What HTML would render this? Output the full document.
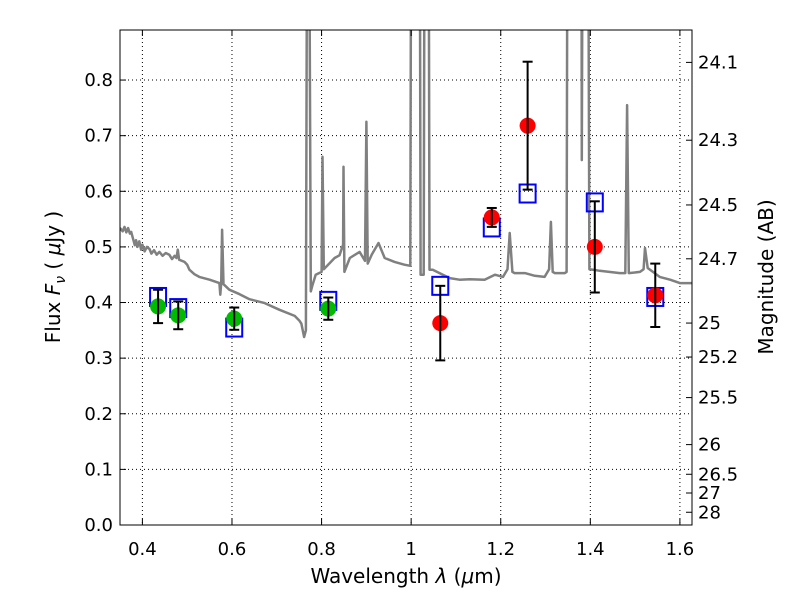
<!DOCTYPE html>
<html><head><meta charset="utf-8"><style>
html,body{margin:0;padding:0;background:#fff}
svg{display:block;font-family:"DejaVu Sans","Liberation Sans",sans-serif}
</style></head><body>
<svg id="chart" width="800" height="600">
<defs><clipPath id="clip"><rect x="120" y="30" width="572" height="495"/></clipPath></defs>
<rect x="0" y="0" width="800" height="600" fill="#fff"/>
<g id="grid"></g>
<g id="spec" clip-path="url(#clip)"></g>
<g id="marks"></g>
<rect x="120" y="30" width="572" height="495" fill="none" stroke="#000" stroke-width="1"/>
<g id="axes"></g>
<text x="406" y="583" font-size="20" text-anchor="middle">Wavelength  <tspan font-style="italic">λ</tspan> (<tspan font-style="italic">μ</tspan>m)</text>
<text transform="translate(60,277) rotate(-90)" font-size="20" text-anchor="middle">Flux  <tspan font-style="italic">F</tspan><tspan font-style="italic" font-size="14" dy="5">ν</tspan><tspan dy="-5">  ( </tspan><tspan font-style="italic">μ</tspan>Jy )</text>
<text transform="translate(773,277) rotate(-90)" font-size="20" text-anchor="middle">Magnitude (AB)</text>
</svg>
<script>
const xTicks=[0.4,0.6,0.8,1.0,1.2,1.4,1.6];
const xTickLabels=["0.4","0.6","0.8","1","1.2","1.4","1.6"];
const yTicks=[0,0.1,0.2,0.3,0.4,0.5,0.6,0.7,0.8];
const yTickLabels=["0.0","0.1","0.2","0.3","0.4","0.5","0.6","0.7","0.8"];
const magTicks=[24.1,24.3,24.5,24.7,25,25.2,25.5,26,26.5,27,28];
const magTickLabels=["24.1","24.3","24.5","24.7","25","25.2","25.5","26","26.5","27","28"];
const greenX=[0.435,0.48,0.605,0.815];
const greenY=[0.393,0.377,0.371,0.389];
const greenErr=[0.03,0.025,0.02,0.02];
const redX=[1.065,1.18,1.26,1.41,1.545];
const redY=[0.363,0.553,0.718,0.5,0.413];
const redErr=[0.067,0.017,0.115,0.082,0.057];
const modelX=[0.435,0.48,0.605,0.815,1.065,1.18,1.26,1.41,1.545];
const modelY=[0.41,0.39,0.355,0.403,0.43,0.535,0.596,0.58,0.41];
const specX=[0.35,0.356,0.36,0.364,0.368,0.372,0.375,0.379,0.383,0.386,0.389,0.393,0.397,0.4,0.405,0.41,0.416,0.42,0.426,0.432,0.438,0.445,0.452,0.46,0.466,0.472,0.476,0.479,0.482,0.494,0.5,0.505,0.516,0.527,0.55,0.572,0.574,0.576,0.578,0.581,0.594,0.617,0.639,0.673,0.706,0.74,0.751,0.755,0.761,0.765,0.768,0.772,0.776,0.78,0.787,0.8,0.802,0.805,0.829,0.84,0.848,0.849,0.851,0.863,0.885,0.897,0.9,0.903,0.912,0.927,0.941,0.963,0.985,0.998,1.0,1.019,1.021,1.028,1.03,1.039,1.041,1.048,1.086,1.108,1.131,1.164,1.187,1.205,1.215,1.22,1.226,1.231,1.254,1.276,1.298,1.308,1.312,1.316,1.321,1.343,1.347,1.349,1.365,1.38,1.381,1.383,1.395,1.398,1.406,1.421,1.466,1.478,1.482,1.486,1.511,1.519,1.522,1.528,1.555,1.578,1.6,1.627];
const specY=[0.534,0.528,0.536,0.526,0.534,0.524,0.527,0.515,0.503,0.512,0.5,0.51,0.495,0.504,0.492,0.5,0.496,0.488,0.494,0.486,0.491,0.484,0.489,0.486,0.478,0.484,0.48,0.495,0.477,0.473,0.468,0.459,0.451,0.446,0.441,0.435,0.414,0.435,0.531,0.433,0.423,0.415,0.406,0.399,0.387,0.376,0.367,0.362,0.338,0.35,1.2,1.2,0.42,0.432,0.45,0.455,0.662,0.46,0.48,0.485,0.504,0.644,0.455,0.48,0.491,0.475,0.725,0.47,0.486,0.507,0.48,0.473,0.468,0.466,1.2,1.2,0.45,0.45,1.2,1.2,0.459,0.459,0.444,0.441,0.442,0.441,0.45,0.446,0.46,0.525,0.455,0.453,0.453,0.448,0.446,0.46,0.545,0.455,0.453,0.453,0.455,1.2,1.2,1.2,0.656,1.2,1.2,0.46,0.459,0.457,0.453,0.453,0.755,0.453,0.455,0.46,0.498,0.462,0.446,0.441,0.435,0.435];

const X0=120,X1=692,Y0=525,Y1=30,XMIN=0.35,XMAX=1.627,YMIN=0,YMAX=0.89;
const sx=v=>X0+(v-XMIN)/(XMAX-XMIN)*(X1-X0);
const sy=v=>Y0-(v-YMIN)/(YMAX-YMIN)*(Y0-Y1);
const magToFlux=m=>Math.pow(10,(23.9-m)/2.5);
const NS="http://www.w3.org/2000/svg";
function mk(parent,tag,attrs){const e=document.createElementNS(NS,tag);for(const k in attrs)e.setAttribute(k,attrs[k]);parent.appendChild(e);return e;}
const grid=document.getElementById('grid'),axes=document.getElementById('axes'),spec=document.getElementById('spec'),marks=document.getElementById('marks');

xTicks.forEach((t,i)=>{const x=sx(t);
 let g=mk(grid,'line',{x1:x,x2:x,y1:Y1,y2:Y0,stroke:'#000','stroke-dasharray':'1,3','stroke-width':1});
 
 
 let a=mk(axes,'line',{x1:x,x2:x,y1:Y0,y2:Y0-6,stroke:'#000'});
 
 
 let b=mk(axes,'line',{x1:x,x2:x,y1:Y1,y2:Y1+6,stroke:'#000'});
 
 
 let l=mk(axes,'text',{x:x,y:555,'font-size':18,'text-anchor':'middle'});l.textContent=xTickLabels[i];
 
 
});
yTicks.forEach((t,i)=>{const y=sy(t);
 let g=mk(grid,'line',{x1:X0,x2:X1,y1:y,y2:y,stroke:'#000','stroke-dasharray':'1,3','stroke-width':1});
 
 
 let a=mk(axes,'line',{x1:X0,x2:X0+6,y1:y,y2:y,stroke:'#000'});
 
 
 let l=mk(axes,'text',{x:113,y:y+6,'font-size':18,'text-anchor':'end'});l.textContent=yTickLabels[i];
 
 
});
magTicks.forEach((m,i)=>{const y=sy(magToFlux(m));
 let a=mk(axes,'line',{x1:X1,x2:X1-6,y1:y,y2:y,stroke:'#000'});
 
 
 let l=mk(axes,'text',{x:698,y:y+6,'font-size':18,'text-anchor':'start'});l.textContent=magTickLabels[i];
 
 
});
let d='';specX.forEach((v,i)=>{d+=(i?'L':'M')+sx(v).toFixed(1)+','+sy(specY[i]).toFixed(1);});
const p=mk(spec,'path',{d:d,fill:'none',stroke:'#808080','stroke-width':2.5,'stroke-linejoin':'round'});



function errbar(x,y,e){const cx=sx(x);
 let l=mk(marks,'line',{x1:cx,x2:cx,y1:sy(y-e),y2:sy(y+e),stroke:'#000','stroke-width':2});
 
 
 [y-e,y+e].forEach(v=>{let c=mk(marks,'line',{x1:cx-5,x2:cx+5,y1:sy(v),y2:sy(v),stroke:'#000','stroke-width':2});
  
  });
}
modelX.forEach((x,i)=>{
 let r=mk(marks,'rect',{x:sx(x)-8,y:sy(modelY[i])-9,width:16,height:18,fill:'none',stroke:'#0000ff','stroke-width':2});
 
 
});
greenX.forEach((x,i)=>{
 let c=mk(marks,'circle',{cx:sx(x),cy:sy(greenY[i]),r:8,fill:'#00bb00'});
 
 
 errbar(x,greenY[i],greenErr[i]);
});
redX.forEach((x,i)=>{
 let c=mk(marks,'circle',{cx:sx(x),cy:sy(redY[i]),r:8,fill:'#ff0000'});
 
 
 errbar(x,redY[i],redErr[i]);
});
</script>
</body></html>
